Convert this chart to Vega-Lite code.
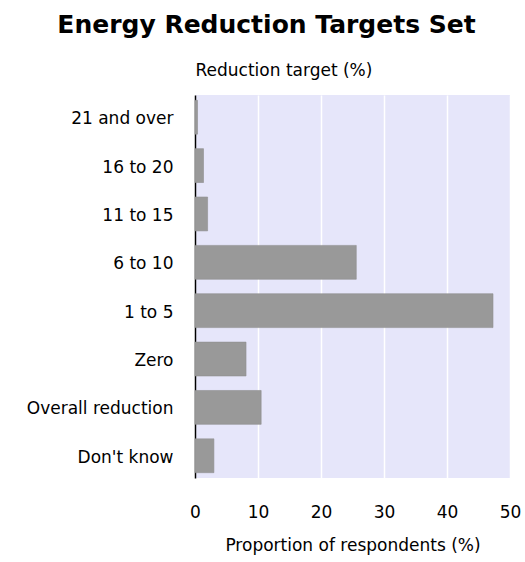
{
  "$schema": "https://vega.github.io/schema/vega-lite/v6.json",
  "width": 315,
  "height": 383,
  "autosize": {"type": "none"},
  "padding": {"left": 195, "top": 95, "right": 15, "bottom": 84},
  "background": "white",
  "title": {
    "text": "Energy Reduction Targets Set",
    "font": "DejaVu Sans",
    "fontSize": 25,
    "fontWeight": "bold",
    "color": "black",
    "anchor": "middle",
    "dx": -86,
    "dy": -19
  },
  "config": {"view": {"fill": "#e6e6fa", "stroke": null}},
  "data": {
    "values": [
      {"target": "21 and over", "pct": 0.4},
      {"target": "16 to 20", "pct": 1.35},
      {"target": "11 to 15", "pct": 2.0},
      {"target": "6 to 10", "pct": 25.6},
      {"target": "1 to 5", "pct": 47.3},
      {"target": "Zero", "pct": 8.1},
      {"target": "Overall reduction", "pct": 10.5},
      {"target": "Don't know", "pct": 3.0}
    ]
  },
  "mark": {"type": "bar", "color": "#999999", "stroke": "#8e8e8e", "strokeWidth": 0.6},
  "encoding": {
    "y": {
      "field": "target",
      "type": "nominal",
      "sort": null,
      "scale": {"paddingInner": 0.3, "paddingOuter": 0.11},
      "axis": {
        "title": "Reduction target (%)",
        "titleAngle": 0,
        "titleX": 0,
        "titleY": -20,
        "titleAlign": "left",
        "titleBaseline": "alphabetic",
        "titleFont": "DejaVu Sans",
        "titleFontSize": 17,
        "titleFontWeight": "normal",
        "titleColor": "black",
        "labelFont": "DejaVu Sans",
        "labelFontSize": 17,
        "labelColor": "black",
        "labelOffset": 2,
        "ticks": false,
        "tickSize": 0,
        "labelPadding": 22,
        "domainColor": "black",
        "domainWidth": 1.5
      }
    },
    "x": {
      "field": "pct",
      "type": "quantitative",
      "scale": {"domain": [0, 50]},
      "axis": {
        "title": "Proportion of respondents (%)",
        "values": [0, 10, 20, 30, 40, 50],
        "grid": true,
        "gridColor": "white",
        "gridWidth": 1.5,
        "gridOpacity": 1,
        "domain": false,
        "ticks": false,
        "tickSize": 0,
        "labelPadding": 26,
        "labelFont": "DejaVu Sans",
        "labelFontSize": 17,
        "labelColor": "black",
        "labelFlush": false,
        "titleFont": "DejaVu Sans",
        "titleFontSize": 17,
        "titleFontWeight": "normal",
        "titleColor": "black",
        "titlePadding": 17
      }
    }
  }
}
